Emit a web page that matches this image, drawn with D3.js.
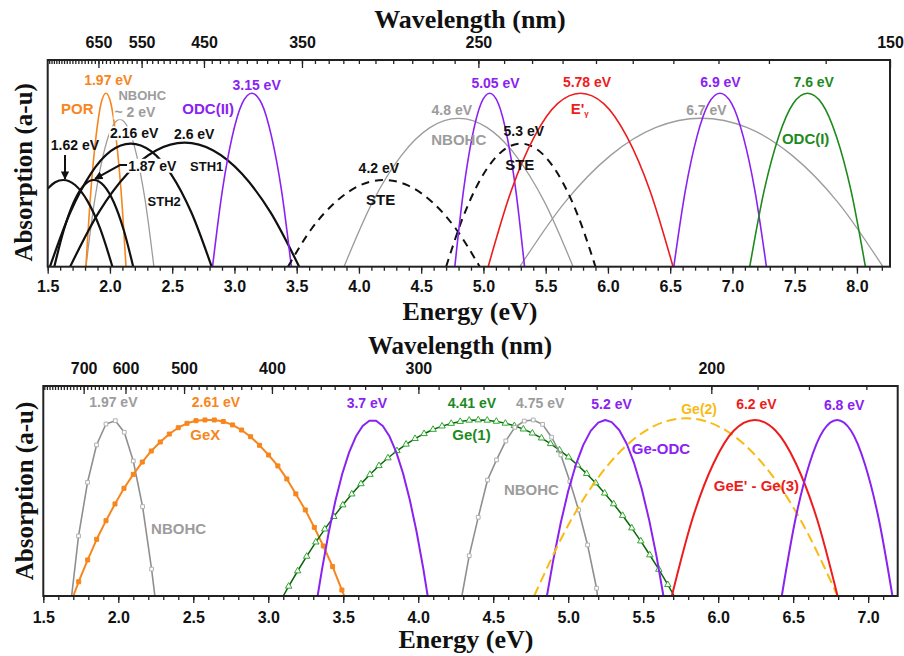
<!DOCTYPE html>
<html><head><meta charset="utf-8">
<script src="https://cdn.jsdelivr.net/npm/d3@7"></script>
<style>
body{margin:0;background:#fff;}
svg text{font-family:"Liberation Sans",Arial,sans-serif;font-weight:bold;}
svg text.serif{font-family:"Liberation Serif","Times New Roman",serif;}
</style></head><body>
<svg id="c" width="904" height="656"></svg>
<script>
// ================= DATA (energy eV, relative absorption) =================
// ---- top panel (silica defects) ----
const topEnergyDomain = [1.5, 8.2656];
const topWavelengthEdges = [826.56, 150];
const topEnergyMinor = d3.range(15, 83).map(d => d / 10);
const topEnergyMajor = [1.5, 2.0, 2.5, 3.0, 3.5, 4.0, 4.5, 5.0, 5.5, 6.0, 6.5, 7.0, 7.5, 8.0];
const topWavelengthMinor = d3.range(160, 830, 10);
const topWavelengthMajor = [650, 550, 450, 350, 250, 150];

const t162 = [[1.50,0.45],[1.56,0.487],[1.625,0.50],[1.72,0.471],[1.82,0.378],[1.92,0.222],[2.02,0]];
const t187 = [[1.553,0],[1.63,0.213],[1.71,0.373],[1.79,0.468],[1.87,0.50],[1.95,0.468],[2.03,0.373],[2.11,0.213],[2.187,0]];
const tSTH2 = [[1.518,0],[1.68,0.311],[1.843,0.533],[2.005,0.666],[2.167,0.71],[2.33,0.666],[2.492,0.533],[2.655,0.311],[2.817,0]];
const tSTH1 = [[1.68,0],[1.91,0.313],[2.14,0.536],[2.37,0.67],[2.60,0.715],[2.83,0.67],[3.06,0.536],[3.29,0.313],[3.52,0]];
const tPOR = [[1.807,0],[1.847,0.44],[1.888,0.75],[1.928,0.94],[1.968,1.0],[2.008,0.94],[2.048,0.75],[2.089,0.44],[2.129,0]];
const tNBOHC2 = [[1.807,0],[1.875,0.372],[1.944,0.638],[2.012,0.797],[2.08,0.85],[2.148,0.797],[2.216,0.638],[2.285,0.372],[2.353,0]];
const tODC2 = [[2.824,0],[2.903,0.44],[2.982,0.75],[3.061,0.94],[3.14,1.0],[3.219,0.94],[3.298,0.75],[3.378,0.44],[3.457,0]];
const tSTE42 = [[3.43,0],[3.62,0.219],[3.815,0.375],[4.008,0.469],[4.2,0.5],[4.393,0.469],[4.585,0.375],[4.778,0.219],[4.97,0]];
const tNBOHC48 = [[3.88,0],[4.11,0.374],[4.34,0.641],[4.57,0.802],[4.80,0.855],[5.03,0.802],[5.26,0.641],[5.49,0.374],[5.72,0]];
const t505 = [[4.77,0],[4.84,0.44],[4.91,0.75],[4.98,0.94],[5.05,1.0],[5.12,0.94],[5.19,0.75],[5.26,0.44],[5.33,0]];
const tSTE53 = [[4.70,0],[4.85,0.311],[5.00,0.533],[5.15,0.666],[5.30,0.71],[5.45,0.666],[5.60,0.533],[5.75,0.311],[5.90,0]];
const tEgamma = [[5.038,0],[5.224,0.44],[5.409,0.75],[5.595,0.94],[5.78,1.0],[5.966,0.94],[6.152,0.75],[6.337,0.44],[6.523,0]];
const t67 = [[5.292,0],[5.657,0.374],[6.021,0.642],[6.386,0.803],[6.75,0.856],[7.115,0.803],[7.479,0.642],[7.844,0.374],[8.209,0]];
const t69 = [[6.529,0],[6.622,0.44],[6.715,0.75],[6.808,0.94],[6.90,1.0],[6.994,0.94],[7.087,0.75],[7.18,0.44],[7.273,0]];
const t76 = [[7.139,0],[7.255,0.44],[7.371,0.75],[7.487,0.94],[7.603,1.0],[7.72,0.94],[7.836,0.75],[7.952,0.44],[8.068,0]];

// annotation arrows (energy, absorption)
const arrow162 = [[1.639,0.644],[1.639,0.506]];
const arrow187 = [[2.139,0.586],[2.08,0.586],[1.88,0.506]];

// labels: [text, energy, absorption]
const topLabels = [
  ["1.97 eV",1.987,1.077],["POR",1.738,0.913],["NBOHC",2.26,0.99],["~ 2 eV",2.201,0.89],
  ["2.16 eV",2.195,0.769],["2.6 eV",2.677,0.765],["1.62 eV",1.719,0.702],["1.87 eV",2.34,0.582],
  ["STH1",2.777,0.577],["STH2",2.436,0.375],["3.15 eV",3.178,1.048],["ODC(II)",2.789,0.913],
  ["4.2 eV",4.16,0.571],["STE",4.174,0.39],["4.8 eV",4.746,0.904],["NBOHC",4.802,0.731],
  ["5.05 eV",5.097,1.058],["5.78 eV",5.832,1.067],["E'",5.774,0.913],["5.3 eV",5.324,0.784],
  ["STE",5.292,0.587],["6.7 eV",6.791,0.904],["6.9 eV",6.904,1.063],["7.6 eV",7.653,1.063],["ODC(I)",7.588,0.74]
];

// ---- bottom panel (germanium-related) ----
const botEnergyDomain = [1.5, 7.197];
const botWavelengthEdges = [834, 165];
const botEnergyMinor = d3.range(15, 72).map(d => d / 10);
const botEnergyMajor = [1.5, 2.0, 2.5, 3.0, 3.5, 4.0, 4.5, 5.0, 5.5, 6.0, 6.5, 7.0];
const botWavelengthMinor = d3.range(170, 840, 10);
const botWavelengthMajor = [700, 600, 500, 400, 300, 200];

const bNBOHC197Ends = [1.689, 2.244];
const bNBOHC197 = [[1.735,0.341],[1.795,0.646],[1.855,0.858],[1.918,0.977],[1.98,0.996],[2.04,0.93],[2.10,0.767],[2.162,0.508],[2.222,0.153]];
const bGeXEnds = [1.70, 3.507];
const bGeX = [[1.736,0.081],[1.796,0.205],[1.856,0.322],[1.918,0.428],[1.978,0.523],[2.038,0.612],[2.10,0.691],[2.16,0.761],
  [2.22,0.824],[2.28,0.875],[2.34,0.92],[2.40,0.956],[2.458,0.981],[2.518,0.996],[2.578,1.0],[2.64,1.0],[2.70,0.991],
  [2.762,0.972],[2.822,0.943],[2.882,0.905],[2.942,0.856],[3.002,0.801],[3.064,0.739],[3.124,0.665],[3.184,0.58],
  [3.247,0.489],[3.307,0.39],[3.367,0.284],[3.429,0.167],[3.491,0.034]];
const b37 = [[3.329,0],[3.359,0.154],[3.404,0.365],[3.449,0.545],[3.494,0.696],[3.539,0.816],[3.584,0.906],[3.629,0.966],
  [3.674,0.996],[3.719,0.996],[3.764,0.966],[3.809,0.906],[3.854,0.816],[3.899,0.696],[3.944,0.545],[3.989,0.365],[4.034,0.154],[4.063,0]];
const bGe1Ends = [3.10, 5.707];
const bGe1 = [[3.136,0.055],[3.196,0.142],[3.256,0.225],[3.317,0.306],[3.377,0.38],[3.437,0.451],[3.497,0.517],[3.557,0.579],
  [3.618,0.637],[3.678,0.69],[3.738,0.74],[3.798,0.784],[3.858,0.825],[3.919,0.862],[3.979,0.894],[4.039,0.922],[4.099,0.946],
  [4.159,0.965],[4.22,0.98],[4.28,0.991],[4.34,0.998],[4.40,1.0],[4.46,0.998],[4.521,0.992],[4.581,0.981],[4.641,0.967],
  [4.701,0.948],[4.761,0.925],[4.822,0.897],[4.882,0.865],[4.942,0.829],[5.002,0.789],[5.062,0.744],[5.123,0.695],
  [5.183,0.642],[5.243,0.584],[5.303,0.523],[5.363,0.457],[5.424,0.386],[5.484,0.312],[5.544,0.233],[5.604,0.151],[5.664,0.064]];
const bNBOHC475Ends = [4.291, 5.195];
const bNBOHC475 = [[4.34,0.229],[4.40,0.447],[4.462,0.659],[4.522,0.773],[4.584,0.881],[4.644,0.958],[4.707,0.994],[4.767,1.0],
  [4.829,0.975],[4.889,0.902],[4.951,0.801],[5.011,0.65],[5.069,0.489],[5.129,0.29],[5.189,0.044]];
const b52 = [[4.858,0],[4.90,0.202],[4.95,0.415],[5.00,0.596],[5.05,0.743],[5.10,0.857],[5.15,0.938],[5.20,0.985],[5.247,1.0],
  [5.29,0.988],[5.34,0.943],[5.39,0.865],[5.44,0.753],[5.49,0.609],[5.54,0.431],[5.59,0.221],[5.635,0]];
const bGe2 = [[4.773,0],[5.026,0.442],[5.279,0.758],[5.532,0.947],[5.785,1.01],[6.038,0.947],[6.291,0.758],[6.543,0.442],[6.796,0]];
const b62 = [[5.691,0],[5.829,0.44],[5.967,0.75],[6.105,0.94],[6.2435,1.0],[6.382,0.94],[6.52,0.75],[6.658,0.44],[6.796,0]];
const b68 = [[6.424,0],[6.516,0.44],[6.608,0.75],[6.701,0.94],[6.793,1.0],[6.885,0.94],[6.978,0.75],[7.07,0.44],[7.162,0]];

const botLabels = [
  ["1.97 eV",1.967,1.104],["2.61 eV",2.651,1.104],["GeX",2.58,0.915],["NBOHC",2.402,0.385],["3.7 eV",3.658,1.098],
  ["4.41 eV",4.358,1.095],["Ge(1)",4.355,0.915],["4.75 eV",4.813,1.095],["NBOHC",4.755,0.606],["5.2 eV",5.289,1.091],
  ["Ge-ODC",5.618,0.839],["Ge(2)",5.873,1.061],["6.2 eV",6.255,1.091],["GeE' - Ge(3)",6.255,0.625],["6.8 eV",6.84,1.085]
];

// ================= STYLES =================
const COL = {black:"#111", orange:"#f7861c", gray:"#9c9c9c", purple:"#8a22f2", red:"#ee1c1c",
  green:"#1e8a1e", dgreen:"#0b650b", lgreen:"#2ea82e", yellow:"#f7bb14"};
const topLabelStyle = [
  [COL.orange,14],[COL.orange,15],[COL.gray,13],[COL.gray,14],[COL.black,14],[COL.black,14],[COL.black,14],[COL.black,14],
  [COL.black,13],[COL.black,13],[COL.purple,14],[COL.purple,15],[COL.black,14],[COL.black,15],[COL.gray,14],[COL.gray,15],
  [COL.purple,14],[COL.red,14],[COL.red,15],[COL.black,14],[COL.black,15],[COL.gray,14],[COL.purple,14],[COL.green,14],[COL.green,15]
];
const topLabelBg = new Set(["2.16 eV","1.87 eV","~ 2 eV"]);
const botLabelStyle = [
  [COL.gray,14],[COL.orange,14],[COL.orange,15],[COL.gray,15],[COL.purple,14],[COL.green,14],[COL.green,15],[COL.gray,14],
  [COL.gray,15],[COL.purple,14],[COL.purple,15],[COL.yellow,14],[COL.red,14],[COL.red,15],[COL.purple,14]
];

const svg = d3.select("#c");
const defs = svg.append("defs");
defs.append("marker").attr("id","ah").attr("viewBox","0 0 10 10").attr("refX",9).attr("refY",5)
  .attr("markerWidth",4.2).attr("markerHeight",4.2).attr("markerUnits","strokeWidth").attr("orient","auto")
  .append("path").attr("d","M0,0L10,5L0,10z").attr("fill","#111");

function panel(cfg) {
  const b = cfg.box;
  const x = d3.scaleLinear().domain(cfg.eDomain).range([b.left, b.right]);
  const y = d3.scaleLinear().domain([0, cfg.yMax]).range([b.bottom, b.top]);
  const xw = d3.scaleLinear().domain([1 / cfg.wl[0], 1 / cfg.wl[1]]).range([b.left, b.right]);
  const g = svg.append("g");
  const cid = "clip" + cfg.id;
  defs.append("clipPath").attr("id", cid).append("rect")
    .attr("x", b.left).attr("y", b.top).attr("width", b.right - b.left).attr("height", b.bottom - b.top);
  const plot = g.append("g").attr("clip-path", `url(#${cid})`);
  const smooth = d3.line().x(d => x(d[0])).y(d => y(d[1])).curve(d3.curveMonotoneX);
  const straight = d3.line().x(d => x(d[0])).y(d => y(d[1]));

  cfg.curves.forEach(c => {
    let pts = c.data;
    if (c.ends) pts = [[c.ends[0], 0], ...c.data, [c.ends[1], 0]];
    plot.append("path").attr("d", (c.linear ? straight : smooth)(pts)).attr("fill", "none")
      .attr("stroke", c.color).attr("stroke-width", c.w).attr("stroke-dasharray", c.dash || null)
      .attr("stroke-linejoin", "round");
    if (c.symbol) {
      const sym = d3.symbol().type(c.symbol).size(c.size);
      plot.selectAll(null).data(c.data).join("path")
        .attr("transform", d => `translate(${x(d[0])},${y(d[1])})`).attr("d", sym)
        .attr("fill", c.fill).attr("stroke", c.mstroke).attr("stroke-width", 1);
    }
  });

  (cfg.arrows || []).forEach(a => {
    g.append("path").attr("d", straight(a)).attr("fill", "none").attr("stroke", "#111")
      .attr("stroke-width", 2).attr("marker-end", "url(#ah)");
  });

  cfg.labels.forEach((l, i) => {
    const [col, fs] = cfg.labelStyle[i];
    const t = g.append("text").attr("x", x(l[1])).attr("y", y(l[2])).attr("text-anchor", "middle")
      .attr("dominant-baseline", "central").attr("fill", col).attr("font-size", fs);
    if (l[0] === "E'") {
      t.append("tspan").text("E'");
      t.append("tspan").text("\u03b3").attr("font-size", 8).attr("dy", 5);
    } else t.text(l[0]);
    if (cfg.bg && cfg.bg.has(l[0])) {
      const bb = t.node().getBBox();
      g.insert("rect", () => t.node()).attr("x", bb.x - 1).attr("y", bb.y + 1)
        .attr("width", bb.width + 2).attr("height", bb.height - 2).attr("fill", "#fff");
    }
  });

  // frame
  g.append("rect").attr("x", b.left).attr("y", b.top).attr("width", b.right - b.left)
    .attr("height", b.bottom - b.top).attr("fill", "none").attr("stroke", "#222").attr("stroke-width", 2);

  const styleAxis = s => {
    s.select(".domain").remove();
    s.attr("font-size", 16);
    s.selectAll("line").attr("stroke", "#222").attr("stroke-width", 1.3);
    s.selectAll("text").attr("fill", "#111");
  };
  g.append("g").attr("transform", `translate(0,${b.bottom})`)
    .call(d3.axisBottom(x).tickValues(cfg.eMinor).tickSize(4).tickFormat("")).call(styleAxis);
  g.append("g").attr("transform", `translate(0,${b.bottom})`)
    .call(d3.axisBottom(x).tickValues(cfg.eMajor).tickSize(7).tickPadding(cfg.ePad).tickFormat(d3.format(".1f"))).call(styleAxis);
  g.append("g").attr("transform", `translate(0,${b.top})`)
    .call(d3.axisTop(xw).tickValues(cfg.wMinor.map(v => 1 / v)).tickSize(-4).tickFormat("")).call(styleAxis);
  g.append("g").attr("transform", `translate(0,${b.top})`)
    .call(d3.axisTop(xw).tickValues(cfg.wMajor.map(v => 1 / v)).tickSize(-8).tickPadding(12)
      .tickFormat(v => Math.round(1 / v))).call(styleAxis);

  g.append("text").attr("class", "serif").attr("x", cfg.titleX).attr("y", cfg.wlTitleY).attr("text-anchor", "middle")
    .attr("font-size", cfg.wlTitleSize).attr("fill", "#111").text("Wavelength (nm)");
  g.append("text").attr("class", "serif").attr("x", cfg.titleX2).attr("y", cfg.eTitleY).attr("text-anchor", "middle")
    .attr("font-size", 26).attr("fill", "#111").text("Energy (eV)");
  g.append("text").attr("class", "serif")
    .attr("transform", `translate(${cfg.absX},${(b.top + b.bottom) / 2 + cfg.absDy}) rotate(-90)`)
    .attr("text-anchor", "middle").attr("font-size", 25).attr("fill", "#111")
    .text("Absorption (a-u)");
}

panel({
  id: "top", box: {left: 47.7, right: 890, top: 60, bottom: 266.7}, eDomain: topEnergyDomain, yMax: 1.192,
  wl: topWavelengthEdges, eMinor: topEnergyMinor, eMajor: topEnergyMajor, ePad: 7,
  wMinor: topWavelengthMinor, wMajor: topWavelengthMajor,
  titleX: 470, wlTitleY: 28, wlTitleSize: 26, titleX2: 470, eTitleY: 320, absX: 32, absDy: 9,
  curves: [
    {data: tNBOHC2, color: COL.gray, w: 1.3}, {data: tNBOHC48, color: COL.gray, w: 1.3}, {data: t67, color: COL.gray, w: 1.3},
    {data: tPOR, color: COL.orange, w: 1.6},
    {data: t162, color: COL.black, w: 2.2}, {data: t187, color: COL.black, w: 2.2},
    {data: tSTH2, color: COL.black, w: 2.2}, {data: tSTH1, color: COL.black, w: 2.2},
    {data: tODC2, color: COL.purple, w: 1.6},
    {data: tSTE42, color: COL.black, w: 2, dash: "8,6"}, {data: tSTE53, color: COL.black, w: 2, dash: "8,6"},
    {data: t505, color: COL.purple, w: 1.6}, {data: tEgamma, color: COL.red, w: 1.6},
    {data: t69, color: COL.purple, w: 1.6}, {data: t76, color: COL.green, w: 1.6}
  ],
  arrows: [arrow162, arrow187],
  labels: topLabels, labelStyle: topLabelStyle, bg: topLabelBg
});

panel({
  id: "bot", box: {left: 43.3, right: 897.7, top: 386, bottom: 596}, eDomain: botEnergyDomain, yMax: 1.193,
  wl: botWavelengthEdges, eMinor: botEnergyMinor, eMajor: botEnergyMajor, ePad: 9,
  wMinor: botWavelengthMinor, wMajor: botWavelengthMajor,
  titleX: 460, wlTitleY: 354, wlTitleSize: 25, titleX2: 466, eTitleY: 648, absX: 33, absDy: 0,
  curves: [
    {data: bNBOHC197, ends: bNBOHC197Ends, color: "#8f8f8f", w: 1.6, linear: true,
      symbol: d3.symbolSquare, size: 14, fill: "#fff", mstroke: "#b0b0b0"},
    {data: bGeX, ends: bGeXEnds, color: COL.orange, w: 2, linear: true,
      symbol: d3.symbolSquare, size: 16, fill: COL.orange, mstroke: COL.orange},
    {data: bGe1, ends: bGe1Ends, color: COL.dgreen, w: 1.5, linear: true,
      symbol: d3.symbolTriangle, size: 18, fill: "#fff", mstroke: COL.lgreen},
    {data: b37, color: COL.purple, w: 2, linear: true},
    {data: bNBOHC475, ends: bNBOHC475Ends, color: "#8f8f8f", w: 1.6, linear: true,
      symbol: d3.symbolSquare, size: 14, fill: "#fff", mstroke: "#b0b0b0"},
    {data: b52, color: COL.purple, w: 2, linear: true},
    {data: bGe2, color: COL.yellow, w: 2, dash: "10,5"},
    {data: b62, color: COL.red, w: 2},
    {data: b68, color: COL.purple, w: 2}
  ],
  labels: botLabels, labelStyle: botLabelStyle
});
</script>
</body></html>
